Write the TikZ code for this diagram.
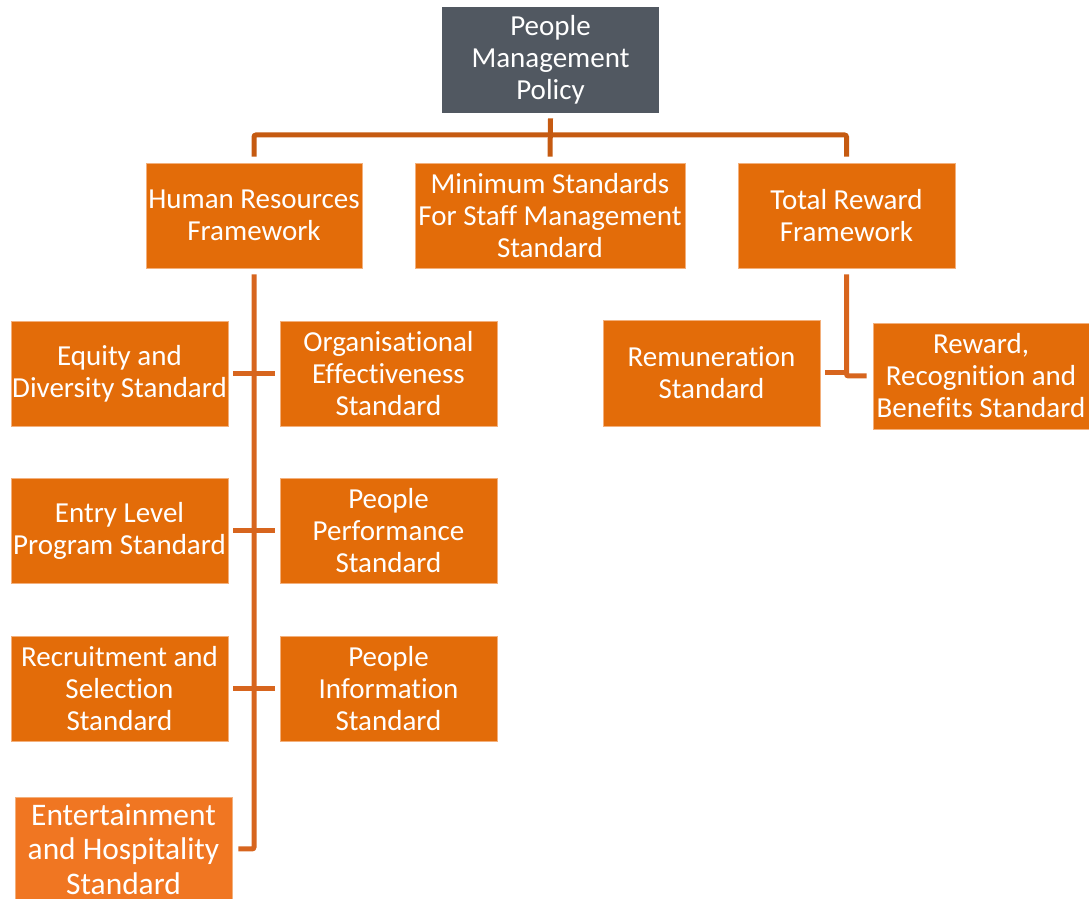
\documentclass[tikz,border=0pt]{standalone}
\usepackage{fontspec}
\setmainfont[Ligatures={NoCommon,NoContextual}]{Carlito}
\definecolor{BoxFill}{HTML}{E36C09}
\definecolor{BoxLight}{HTML}{F07622}
\definecolor{BoxEdge}{HTML}{F3B07C}
\definecolor{TopFill}{HTML}{515861}
\definecolor{ConnDark}{HTML}{C55A11}
\definecolor{ConnMid}{HTML}{D7651E}
\tikzset{
  box/.style={rectangle, fill=BoxFill, draw=BoxEdge, line width=0.8pt, text=white,
    align=center, inner sep=0pt, minimum width=217pt, minimum height=105pt,
    font=\fontsize{29}{32}\selectfont},
  topbox/.style={box, fill=TopFill, draw=none, minimum height=106pt},
  conn/.style={draw=ConnMid, line width=5pt},
  conntop/.style={draw=ConnDark, line width=5pt, rounded corners=2pt},
}
\begin{document}
\begin{tikzpicture}[x=1pt,y=1pt]
\useasboundingbox (0,0) rectangle (1089,899);
% nodes
\node[topbox] (top) at (550.5,839) {People\\Management\\Policy};
\node[box, minimum width=216pt] (hr) at (254,683.5) {Human Resources\\Framework};
\node[box, minimum width=270pt] (ms) at (550,683.5) {Minimum Standards\\For Staff Management\\Standard};
\node[box] (tr) at (846.5,683.5) {Total Reward\\Framework};
\node[box] (eq) at (119.5,525.5) {Equity and\\Diversity Standard};
\node[box] (org) at (388.5,525.5) {Organisational\\Effectiveness\\Standard};
\node[box] (entry) at (119.5,368) {Entry Level\\Program Standard};
\node[box] (perf) at (388.5,368) {People\\Performance\\Standard};
\node[box] (rec) at (119.5,210) {Recruitment and\\Selection\\Standard};
\node[box] (info) at (388.5,210) {People\\Information\\Standard};
\node[box, fill=BoxLight, minimum height=104pt, font=\fontsize{31.4}{34.5}\selectfont] (ent) at (123.5,50) {Entertainment\\and Hospitality\\Standard};
\node[box, minimum height=106pt] (rem) at (711.5,526) {Remuneration\\Standard};
\node[box, minimum width=216pt, minimum height=106pt] (rew) at (981,523) {Reward,\\Recognition and\\Benefits Standard};
\coordinate (bar) at (550,764);
% connectors
\draw[conntop] ([yshift=-5pt]top.south) -- ([yshift=6pt]ms.north);
\draw[conntop] ([yshift=6pt]hr.north) |- (bar) -| ([yshift=6pt]tr.north);
\draw[conn, rounded corners=2pt] ([yshift=-6pt]hr.south) |- ([xshift=6pt]ent.east);
\draw[conn] ([xshift=5pt]eq.east) -- ([xshift=-5pt]org.west);
\draw[conn] ([xshift=5pt]entry.east) -- ([xshift=-5pt]perf.west);
\draw[conn] ([xshift=5pt]rec.east) -- ([xshift=-5pt]info.west);
\draw[conn, rounded corners=2pt] ([yshift=-6pt]tr.south) |- ([xshift=-6pt]rew.west);
\draw[conn] ([xshift=5pt]rem.east) -- (tr.south |- rem.east);
\end{tikzpicture}
\end{document}
